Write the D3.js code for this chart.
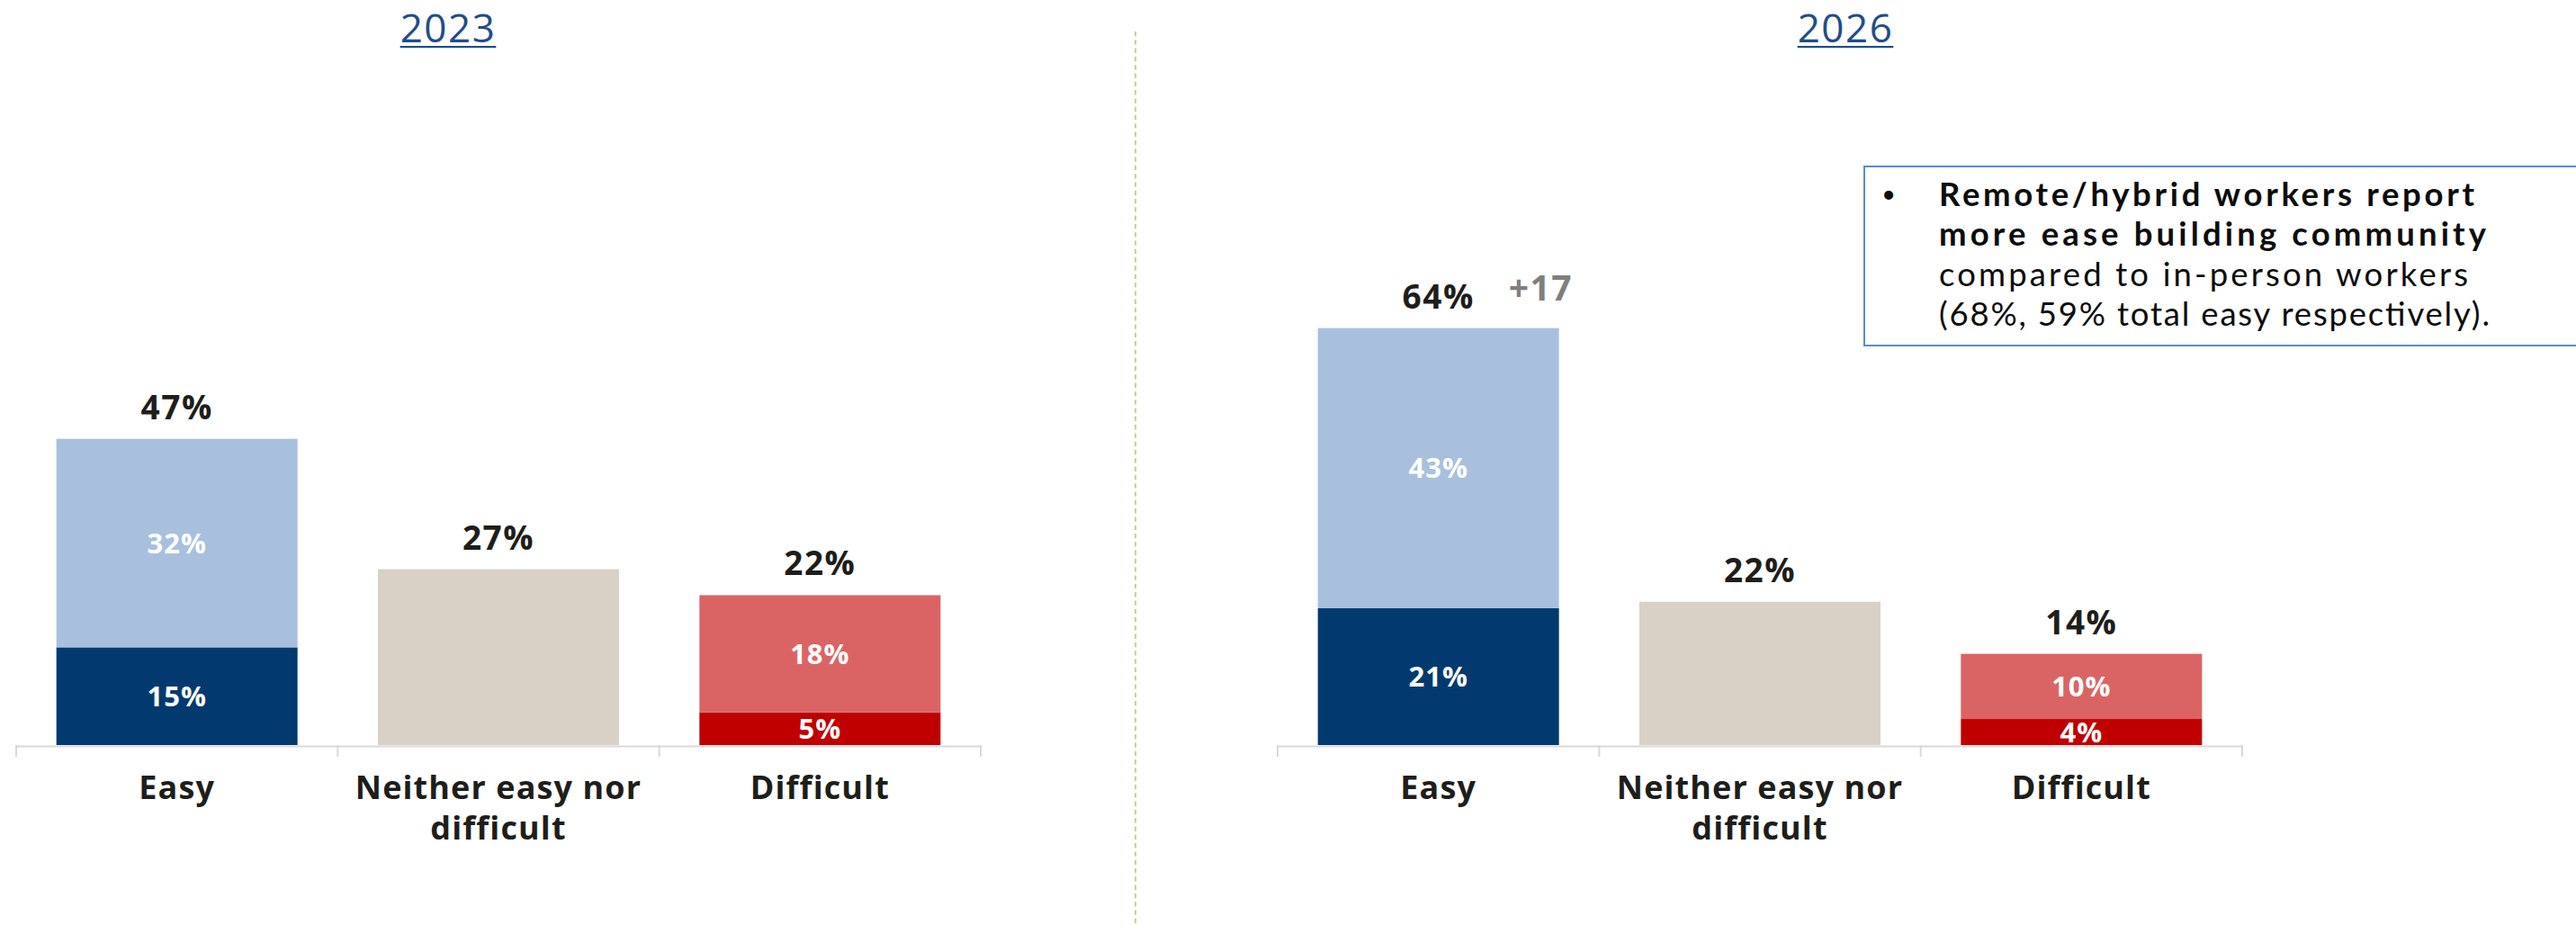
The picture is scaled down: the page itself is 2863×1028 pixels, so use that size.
<!DOCTYPE html>
<html>
<head>
<meta charset="utf-8">
<script src="https://cdn.jsdelivr.net/npm/d3@7"></script>
<style>
  html, body { margin: 0; padding: 0; background: #ffffff; }
  svg { display: block; }
</style>
</head>
<body>
<svg id="chart" width="2863" height="1028"></svg>
<script>
// Survey: ease of building community at work, 2023 vs 2026
const categories = ["Easy", "Neither easy nor difficult", "Difficult"];
const categoryLines = [["Easy"], ["Neither easy nor", "difficult"], ["Difficult"]];
const years = ["2023", "2026"];

// stacked segments: lower (strong) and upper (somewhat) shares, in percent
const lower2023 = [15, 27, 5];
const upper2023 = [32, 0, 18];
const totals2023 = [47, 27, 22];

const lower2026 = [21, 22, 4];
const upper2026 = [43, 0, 10];
const totals2026 = [64, 22, 14];
const change2026 = ["+17", null, null];

const lowerColors = ["#023a70", "#d9d1c5", "#c00000"];
const upperColors = ["#a8c0de", "#d9d1c5", "#da6464"];

const noteBold = ["Remote/hybrid workers report", "more ease building community"];
const noteRegular = ["compared to in-person workers", "(68%, 59% total easy respectively)."];

const FONT = "'Open Sans', 'Noto Sans', sans-serif";
const NOTE_FONT = "Lato, 'Open Sans', sans-serif";
const DARK = "#1e1e1a";

const svg = d3.select("#chart");

const panels = [
  { year: years[0], lower: lower2023, upper: upper2023, totals: totals2023, change: [null, null, null],
    range: [18, 1090], titleX: 498 },
  { year: years[1], lower: lower2026, upper: upper2026, totals: totals2026, change: change2026,
    range: [1420, 2492], titleX: 2051 }
];

const baseY = 828;
const y = d3.scaleLinear().domain([0, 70]).range([baseY, baseY - 70 * 7.24]);

panels.forEach(p => {
  const g = svg.append("g");
  const x = d3.scaleBand().domain(categories).range(p.range)
    .paddingInner(0.25).paddingOuter(0.125);

  // year heading with underline
  const title = g.append("text")
    .attr("x", p.titleX).attr("y", 47)
    .attr("text-anchor", "middle")
    .attr("font-family", FONT).attr("font-size", 44).attr("font-weight", 400)
    .attr("letter-spacing", 1.5)
    .attr("fill", "#1f4e89")
    .text(p.year);
  const tw = title.node().getComputedTextLength();
  g.append("rect")
    .attr("x", p.titleX - tw / 2).attr("y", 51)
    .attr("width", tw).attr("height", 2.2)
    .attr("fill", "#1f4e89");

  const rows = categories.map((c, i) => ({
    cat: c, i, lower: p.lower[i], upper: p.upper[i], total: p.totals[i], change: p.change[i]
  }));

  // lower segments
  g.selectAll("rect.lower").data(rows).join("rect")
    .attr("class", "lower")
    .attr("x", d => x(d.cat)).attr("width", x.bandwidth())
    .attr("y", d => y(d.lower)).attr("height", d => y(0) - y(d.lower))
    .attr("fill", d => lowerColors[d.i]);

  // upper segments
  g.selectAll("rect.upper").data(rows.filter(d => d.upper > 0)).join("rect")
    .attr("class", "upper")
    .attr("x", d => x(d.cat)).attr("width", x.bandwidth())
    .attr("y", d => y(d.lower + d.upper)).attr("height", d => y(d.lower) - y(d.lower + d.upper))
    .attr("fill", d => upperColors[d.i]);

  // segment labels (only for stacked bars)
  const stacked = rows.filter(d => d.upper > 0);
  g.selectAll("text.lowerLab").data(stacked).join("text")
    .attr("class", "lowerLab")
    .attr("x", d => x(d.cat) + x.bandwidth() / 2)
    .attr("y", d => (y(0) + y(d.lower)) / 2)
    .attr("dy", "0.36em")
    .attr("text-anchor", "middle")
    .attr("font-family", FONT).attr("font-size", 31).attr("font-weight", 700)
    .attr("letter-spacing", 1)
    .attr("fill", "#ffffff")
    .text(d => d.lower + "%");
  g.selectAll("text.upperLab").data(stacked).join("text")
    .attr("class", "upperLab")
    .attr("x", d => x(d.cat) + x.bandwidth() / 2)
    .attr("y", d => (y(d.lower) + y(d.lower + d.upper)) / 2)
    .attr("dy", "0.36em")
    .attr("text-anchor", "middle")
    .attr("font-family", FONT).attr("font-size", 31).attr("font-weight", 700)
    .attr("letter-spacing", 1)
    .attr("fill", "#ffffff")
    .text(d => d.upper + "%");

  // totals above bars
  g.selectAll("text.total").data(rows).join("text")
    .attr("class", "total")
    .attr("x", d => x(d.cat) + x.bandwidth() / 2)
    .attr("y", d => y(d.lower + d.upper) - 22)
    .attr("text-anchor", "middle")
    .attr("font-family", FONT).attr("font-size", 37).attr("font-weight", 700)
    .attr("letter-spacing", 1.5)
    .attr("fill", DARK)
    .text(d => d.total + "%");

  // change vs previous wave
  g.selectAll("text.change").data(rows.filter(d => d.change)).join("text")
    .attr("class", "change")
    .attr("x", d => x(d.cat) + x.bandwidth() / 2 + 78)
    .attr("y", d => y(d.lower + d.upper) - 31)
    .attr("text-anchor", "start")
    .attr("font-family", FONT).attr("font-size", 39).attr("font-weight", 700)
    .attr("letter-spacing", 1.5)
    .attr("fill", "#7f7f7f")
    .text(d => d.change);

  // category axis: baseline, boundary ticks, wrapped labels
  const axis = g.append("g").attr("transform", `translate(0,${baseY + 1})`)
    .call(d3.axisBottom(x).tickSize(0).tickPadding(0).tickFormat(""));
  axis.select(".domain").attr("stroke", "#d9d9d9").attr("stroke-width", 2);
  axis.selectAll(".tick").remove();

  const step = x.step();
  const bounds = d3.range(categories.length + 1).map(k => p.range[0] + k * step);
  g.selectAll("line.bound").data(bounds).join("line")
    .attr("class", "bound")
    .attr("x1", d => d).attr("x2", d => d)
    .attr("y1", baseY).attr("y2", baseY + 13)
    .attr("stroke", "#d9d9d9").attr("stroke-width", 2);

  const labs = g.selectAll("text.cat").data(rows).join("text")
    .attr("class", "cat")
    .attr("text-anchor", "middle")
    .attr("font-family", FONT).attr("font-size", 36).attr("font-weight", 700)
    .attr("letter-spacing", 1.1)
    .attr("fill", DARK);
  labs.selectAll("tspan").data(d => categoryLines[d.i].map(t => ({ t, cx: x(d.cat) + x.bandwidth() / 2 })))
    .join("tspan")
    .attr("x", d => d.cx)
    .attr("y", (d, k) => 888 + k * 45)
    .text(d => d.t);
});

// dotted divider between the two years
svg.append("line")
  .attr("x1", 1262).attr("x2", 1262)
  .attr("y1", 35).attr("y2", 1028)
  .attr("stroke", "#c3d69b").attr("stroke-width", 2.2)
  .attr("stroke-dasharray", "5.3 4");

// call-out note
const note = svg.append("g");
note.append("rect")
  .attr("x", 2072).attr("y", 185)
  .attr("width", 820).attr("height", 199)
  .attr("fill", "#ffffff")
  .attr("stroke", "#5a8bd4").attr("stroke-width", 2);
note.append("text")
  .attr("x", 2099).attr("y", 225)
  .attr("text-anchor", "middle")
  .attr("font-family", NOTE_FONT).attr("font-size", 27)
  .attr("fill", "#0d0d0d")
  .text("•");
const lineWidths = [595, 608, 588, 612];
const lines = noteBold.map(t => ({ t, w: 700 })).concat(noteRegular.map(t => ({ t, w: 400 })));
note.selectAll("text.note").data(lines).join("text")
  .attr("class", "note")
  .attr("x", 2155)
  .attr("y", (d, i) => 229 + i * 44.3)
  .attr("font-family", NOTE_FONT).attr("font-size", 36.5)
  .attr("font-weight", d => d.w)
  .attr("textLength", (d, i) => lineWidths[i])
  .attr("lengthAdjust", "spacing")
  .attr("fill", "#0d0d0d")
  .text(d => d.t);
</script>
</body>
</html>
